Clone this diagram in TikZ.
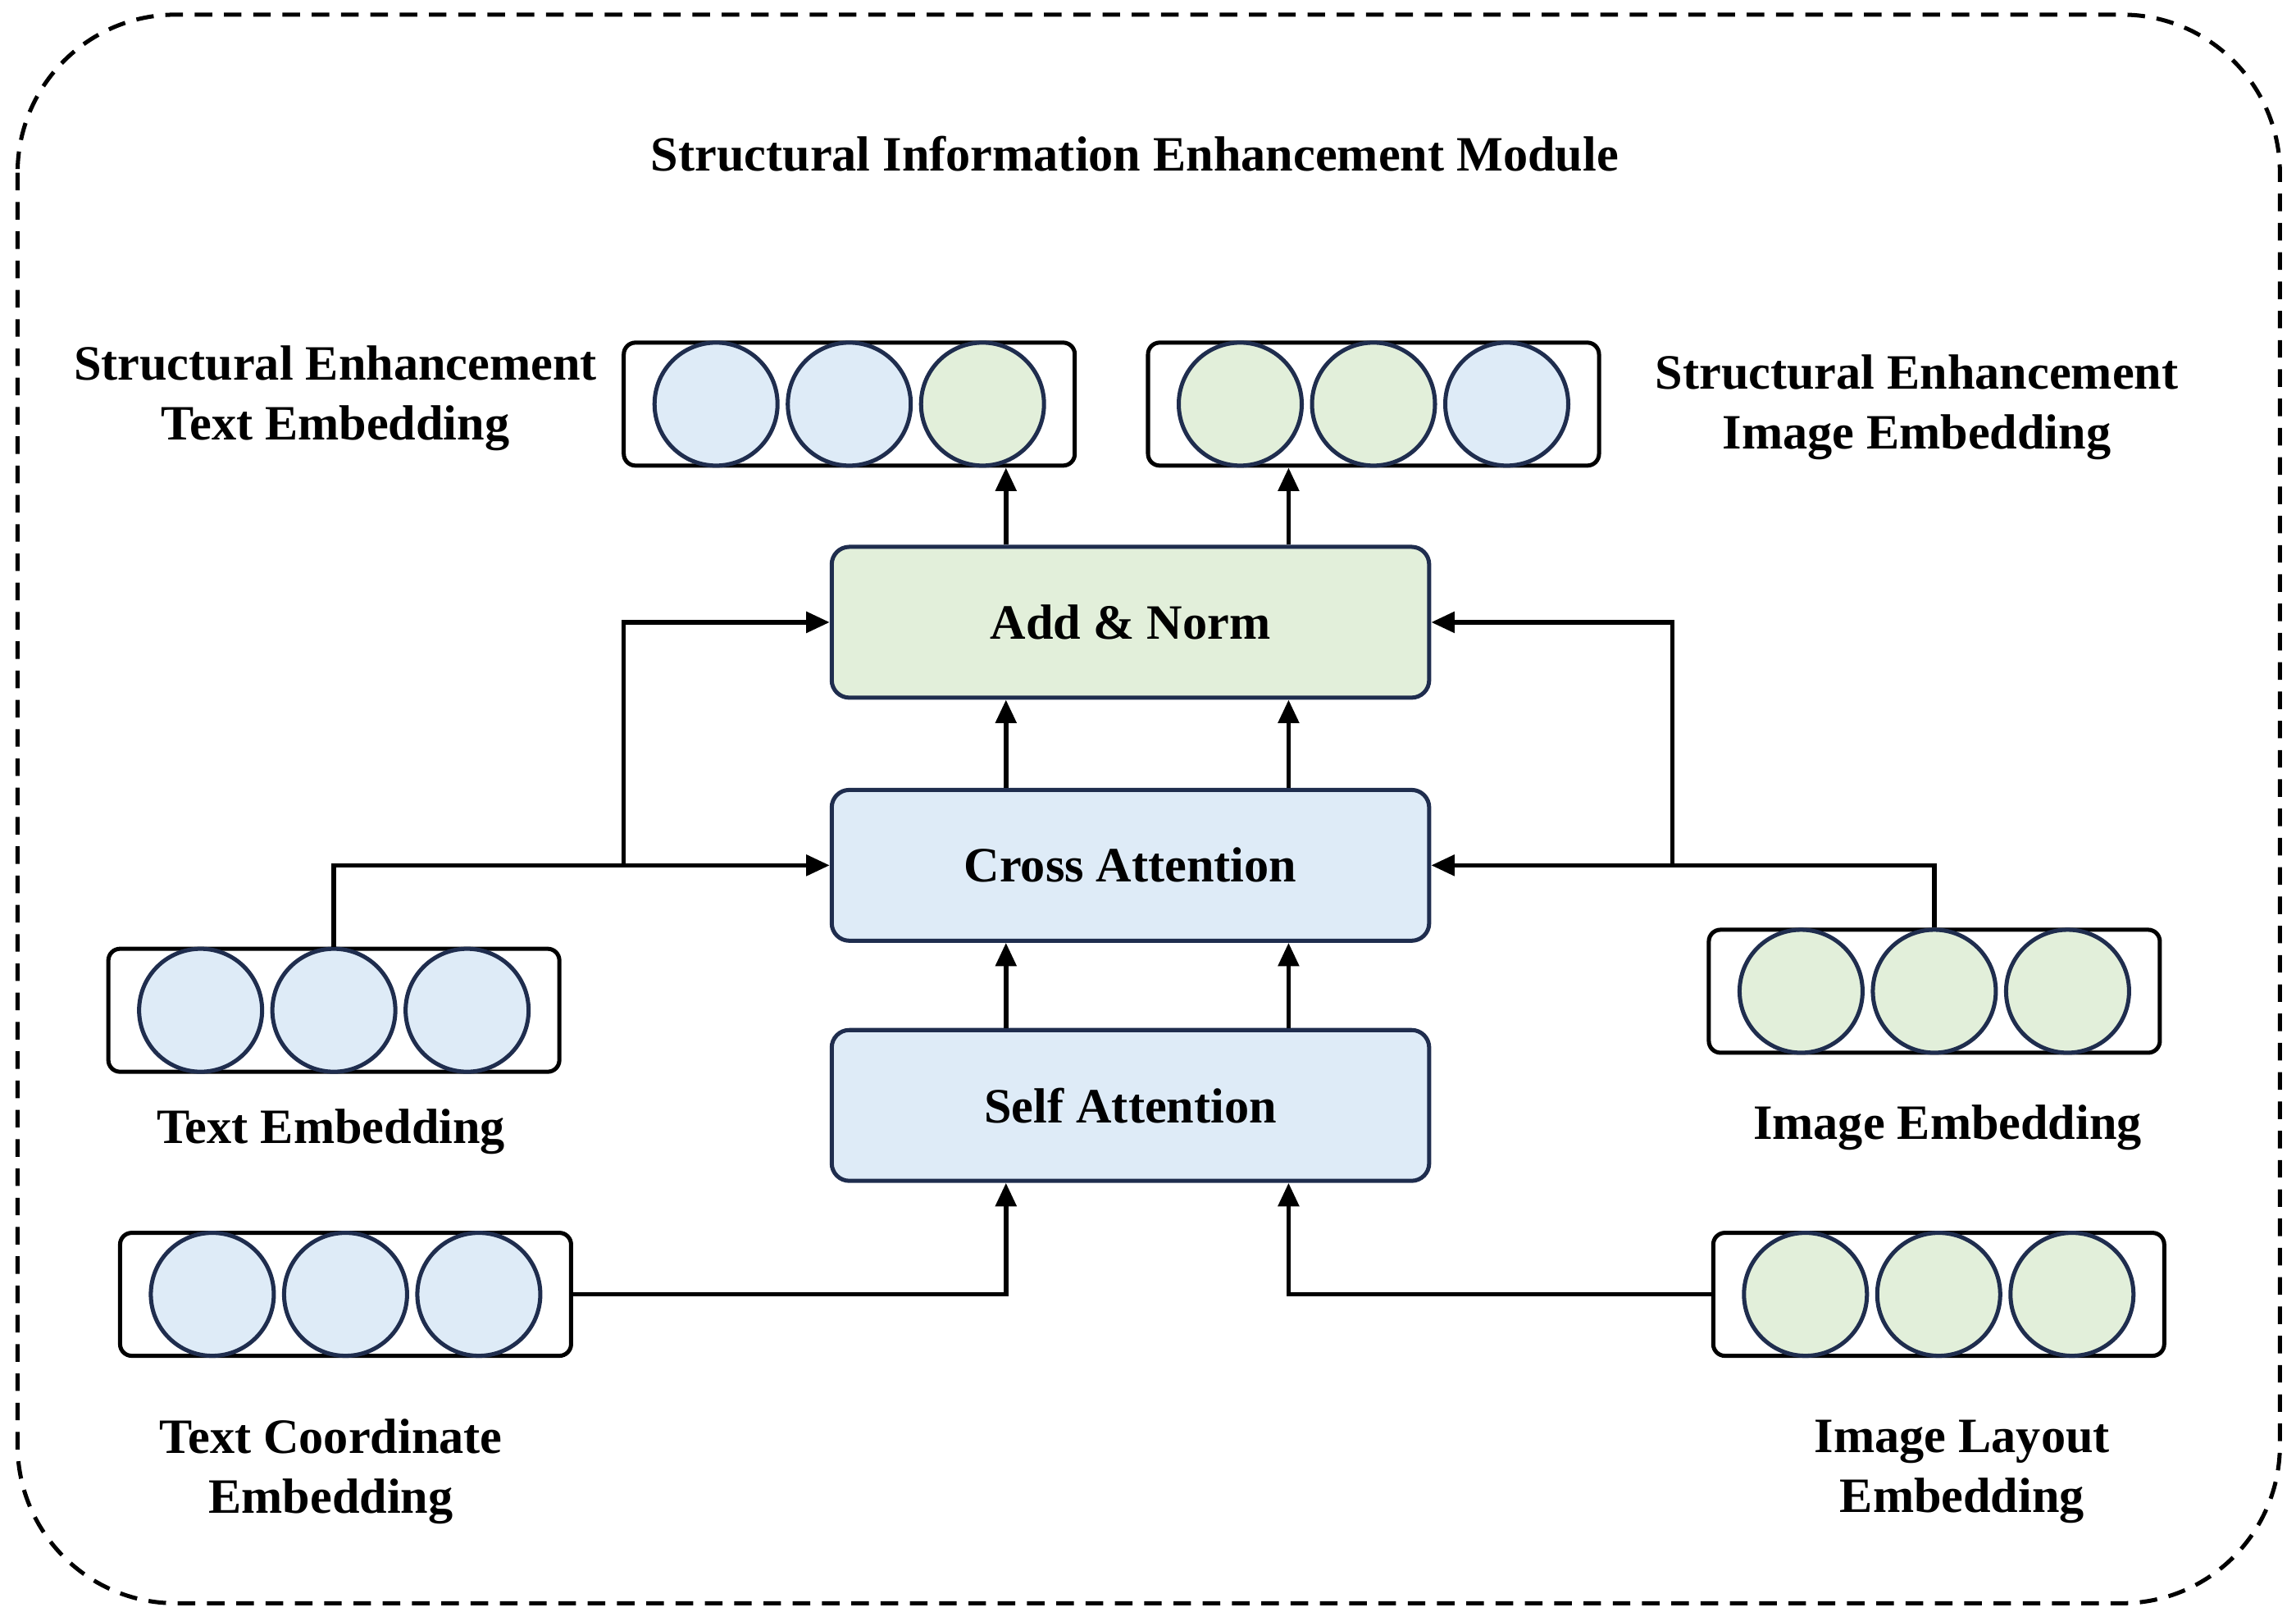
\documentclass[tikz,border=0pt]{standalone}
\usepackage{fontspec}
\setmainfont{Liberation Serif}
\usetikzlibrary{arrows.meta,calc}
\definecolor{lb}{HTML}{DEEBF7}
\definecolor{lg}{HTML}{E2EFDA}
\definecolor{nv}{HTML}{1F2D4E}
\begin{document}
\begin{tikzpicture}[x=0.25mm,y=-0.25mm,
  lbl/.style={font=\fontsize{24}{29}\selectfont\bfseries,align=center,text=black},
  blk/.style={draw=nv,line width=2pt,rounded corners=3mm,minimum width=102mm,minimum height=25.75mm,font=\fontsize{24}{29}\selectfont\bfseries},
  ebox/.style={draw=black,line width=2pt,rounded corners=2mm,minimum width=77mm,minimum height=21mm},
  cir/.style={circle,draw=nv,line width=2pt,minimum size=21mm,inner sep=0},
  arr/.style={line width=2.2pt,-{Triangle[length=4mm,width=3.5mm]}},
  ln/.style={line width=2.2pt}]
\useasboundingbox (0,0) rectangle (1568,1107);
\draw[dash pattern=on 3mm off 2mm,line width=2pt,rounded corners=27mm] (12,10) rectangle (1557,1095);
\node[lbl] (title) at (775,105) {Structural Information Enhancement Module};
\node[blk,fill=lg] (add) at (772,425) {Add \& Norm};
\node[blk,fill=lb] (cross) at (772,591) {Cross Attention};
\node[blk,fill=lb] (self) at (772,755) {Self Attention};
% embedding boxes
\node[ebox] (ste) at (580,276) {};
\node[ebox] (sie) at (938,276) {};
\node[ebox] (te) at (228,690) {};
\node[ebox] (ie) at (1321,677) {};
\node[ebox] (tce) at (236,884) {};
\node[ebox] (ile) at (1324,884) {};
\foreach \n/\a/\b/\c in {ste/lb/lb/lg, sie/lg/lg/lb, te/lb/lb/lb, ie/lg/lg/lg, tce/lb/lb/lb, ile/lg/lg/lg}{
  \node[cir,fill=\a] (\n1) at ($(\n)+(-91,0)$) {};
  \node[cir,fill=\b] (\n2) at (\n) {};
  \node[cir,fill=\c] (\n3) at ($(\n)+(91,0)$) {};
}
\node[lbl] (lste) at (229,272) {Structural Enhancement\\Text Embedding};
\node[lbl] (lsie) at (1309,278) {Structural Enhancement\\Image Embedding};
\node[lbl] (lte) at (226,773) {Text Embedding};
\node[lbl] (lie) at (1330,770) {Image Embedding};
\node[lbl] (ltce) at (226,1005) {Text Coordinate\\Embedding};
\node[lbl] (lile) at (1340,1005) {Image Layout\\Embedding};
\coordinate (xl) at (687,0);
\coordinate (xr) at (880,0);
\draw[arr] (tce.east) -| (self.south -| xl);
\draw[arr] (ile.west) -| (self.south -| xr);
\draw[arr] (self.north -| xl) -- (cross.south -| xl);
\draw[arr] (self.north -| xr) -- (cross.south -| xr);
\draw[arr] (cross.north -| xl) -- (add.south -| xl);
\draw[arr] (cross.north -| xr) -- (add.south -| xr);
\draw[arr] (add.north -| xl) -- (ste.south -| xl);
\draw[arr] (add.north -| xr) -- (sie.south -| xr);
\coordinate (bl) at (426,591);
\coordinate (br) at (1142,591);
\draw[arr] (te.north) |- (cross.west);
\draw[arr] (bl) |- (add.west);
\draw[arr] (ie.north) |- (cross.east);
\draw[arr] (br) |- (add.east);
\end{tikzpicture}
\end{document}
